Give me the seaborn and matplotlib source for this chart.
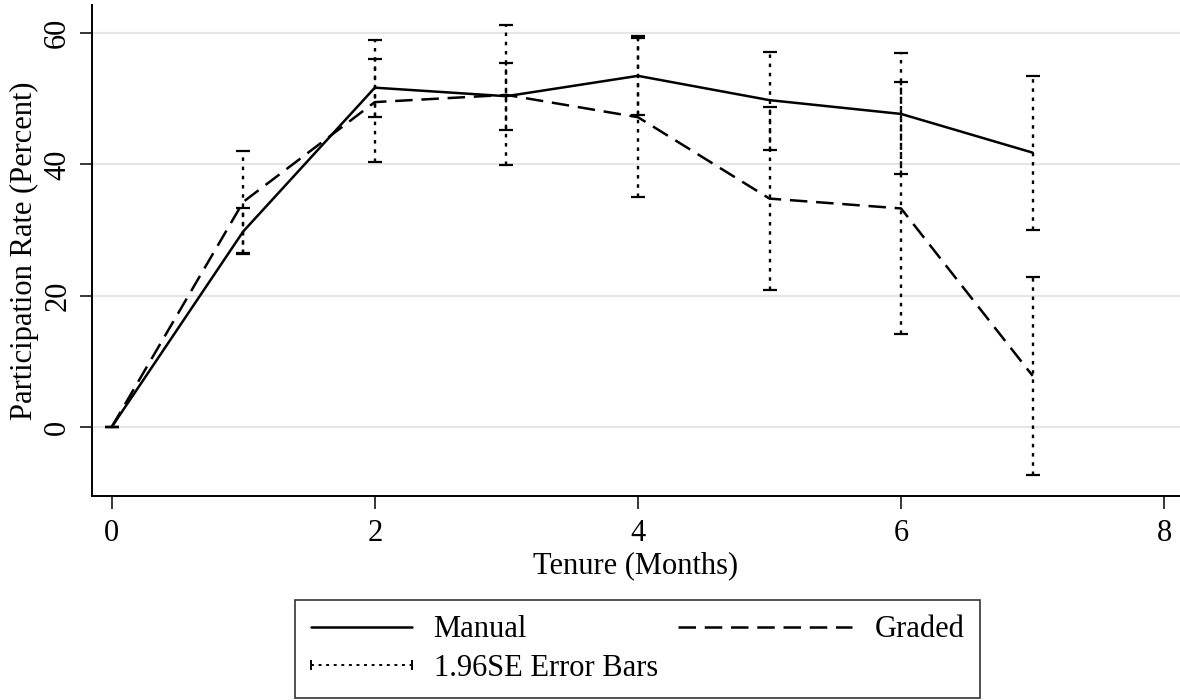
import numpy as np
import pandas as pd
import matplotlib
matplotlib.use("Agg")
import matplotlib.pyplot as plt
import seaborn as sns
from matplotlib.lines import Line2D
from matplotlib.legend_handler import HandlerLine2D

# ---- data ----
tenure = [0, 1, 2, 3, 4, 5, 6, 7]
manual = [0, 29.8, 51.7, 50.4, 53.5, 49.8, 47.7, 41.8]
manual_lo = [0, 26.3, 47.3, 45.2, 47.5, 42.2, 38.5, 30.0]
manual_hi = [0, 33.3, 56.1, 55.4, 59.6, 57.1, 57.0, 53.5]
graded = [0, 34.3, 49.5, 50.6, 47.2, 34.8, 33.3, 7.8]
graded_lo = [0, 26.5, 40.3, 39.9, 35.1, 20.9, 14.1, -7.3]
graded_hi = [0, 42.1, 58.9, 61.2, 59.3, 48.7, 52.6, 22.8]
xticks = [0, 2, 4, 6, 8]
yticks = [0, 20, 40, 60]

sns.set_theme(style="white")
plt.rcParams['font.family'] = ['Liberation Serif', 'DejaVu Serif']
plt.rcParams['text.color'] = 'black'
plt.rcParams['axes.labelcolor'] = 'black'
FS = 22

df = pd.DataFrame({
    "tenure": tenure * 2,
    "rate": manual + graded,
    "lo": manual_lo + graded_lo,
    "hi": manual_hi + graded_hi,
    "group": ["Manual"] * len(tenure) + ["Graded"] * len(tenure),
})

fig = plt.figure(figsize=(11.8, 7), dpi=100)
ax = fig.add_axes([0.0777, 0.2919, 0.9223, 0.701])

# grid
for yv in yticks:
    ax.axhline(yv, color="#e6e6e6", lw=1.6, zorder=0)

DOT = (0, (1.5, 2.4))
# error bars
for g in ["Manual", "Graded"]:
    sub = df[df["group"] == g]
    y = sub["rate"].to_numpy()
    err = [y - sub["lo"].to_numpy(), sub["hi"].to_numpy() - y]
    eb = ax.errorbar(sub["tenure"], y, yerr=err, fmt="none", ecolor="black",
                     elinewidth=1.7, capsize=5, capthick=1.6, zorder=2)
    for lc in eb[2]:
        lc.set_linestyle(DOT)

sns.lineplot(data=df, x="tenure", y="rate", style="group",
             style_order=["Manual", "Graded"],
             dashes={"Manual": "", "Graded": (7, 3.5)},
             color="black", lw=1.8, ax=ax, legend=False, zorder=3)

ax.set_xlim(-0.152, 8.12)
ax.set_ylim(-10.46, 64.3)
ax.set_xticks(xticks)
ax.set_yticks(yticks)
ax.set_xlabel("Tenure (Months)", fontsize=FS, labelpad=2.5)
ax.set_ylabel("Participation Rate (Percent)", fontsize=FS, labelpad=3)
ax.tick_params(axis="both", which="major", direction="out", length=9,
               width=1.1, color="black", labelsize=FS, labelcolor="black")
ax.tick_params(axis="x", pad=7.5)
ax.tick_params(axis="y", pad=5, labelrotation=90)
for lab in ax.get_yticklabels():
    lab.set_va("center")
ax.tick_params(bottom=True, left=True)
for s in ["top", "right"]:
    ax.spines[s].set_visible(False)
for s in ["left", "bottom"]:
    ax.spines[s].set_color("black")
    ax.spines[s].set_linewidth(1.4)
ax.set_facecolor("white")


class LongHandler(HandlerLine2D):
    def __init__(self, ext, **kw):
        super().__init__(**kw)
        self.ext = ext

    def create_artists(self, legend, orig_handle, xdescent, ydescent, width,
                       height, fontsize, trans):
        e = self.ext * fontsize
        return super().create_artists(legend, orig_handle, xdescent + e,
                                      ydescent, width + e, height, fontsize, trans)


h_man = Line2D([], [], color="black", lw=1.8)
h_grd = Line2D([], [], color="black", lw=1.8, dashes=(7, 3.5))
h_err = Line2D([], [], color="black", lw=1.4, ls=DOT, marker="|",
               markersize=7, markeredgewidth=1.4)

leg = fig.legend([h_man, h_err, h_grd],
                 ["Manual", "1.96SE Error Bars", "Graded"],
                 ncol=2, loc="lower center", bbox_to_anchor=(0.5403, 0.003),
                 bbox_transform=fig.transFigure, borderaxespad=0,
                 fontsize=FS, frameon=True,
                 fancybox=False, edgecolor="black", handlelength=3.3,
                 handletextpad=0.72, columnspacing=3.07, numpoints=2,
                 borderpad=0.5, labelspacing=0.3,
                 handler_map={h_grd: LongHandler(2.42, marker_pad=0),
                              h_man: HandlerLine2D(marker_pad=0),
                              h_err: HandlerLine2D(marker_pad=0)})
leg.get_frame().set_linewidth(1.2)

fig.savefig("out.png", dpi=100, facecolor="white")
